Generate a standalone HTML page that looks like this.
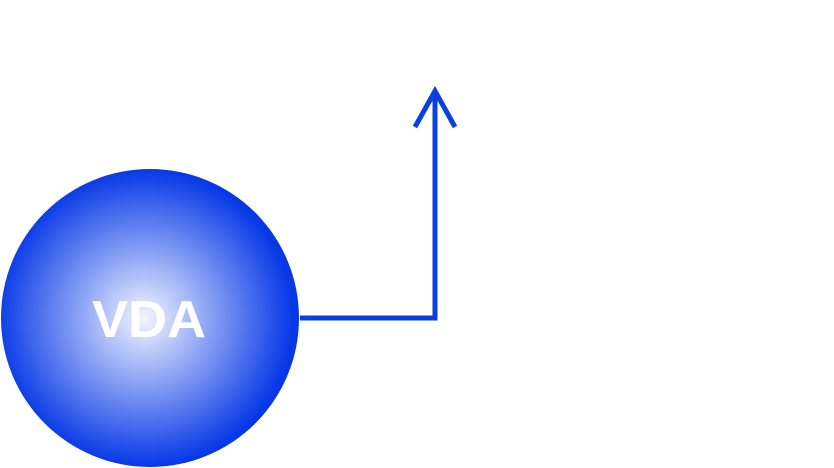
<!DOCTYPE html>
<html><head><style>
html,body{margin:0;padding:0;background:#fff;width:834px;height:468px;overflow:hidden}
</style></head><body>
<svg width="834" height="468" viewBox="0 0 834 468" xmlns="http://www.w3.org/2000/svg">
<defs>
<radialGradient id="g" cx="0.48" cy="0.5" r="0.5">
<stop offset="0" stop-color="#f2f5ff"/>
<stop offset="1" stop-color="#0638e6"/>
</radialGradient>
</defs>
<circle cx="150" cy="318" r="149" fill="url(#g)"/>
<text x="92" y="337" textLength="114" lengthAdjust="spacingAndGlyphs" font-family="Liberation Sans, DejaVu Sans, sans-serif" font-size="52" font-weight="bold" fill="#fff">VDA</text>
<polyline points="300,318 435,318 435,92" fill="none" stroke="#0a3fe0" stroke-width="5"/>
<polyline points="415,127 435,91 455,127" fill="none" stroke="#0a3fe0" stroke-width="5"/>
</svg>
</body></html>
